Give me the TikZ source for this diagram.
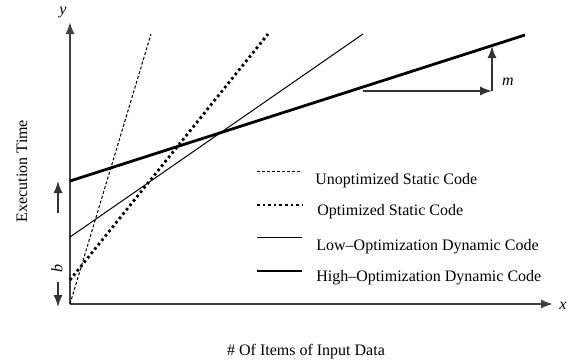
\documentclass[tikz,border=0pt]{standalone}
\usepackage{fontspec}
\setmainfont{Liberation Serif}
\usetikzlibrary{arrows.meta}

\begin{document}
\begin{tikzpicture}[x=0.5pt, y=0.5pt, >={Latex[length=6pt,width=4.5pt]},
    every node/.style={font=\fontsize{8}{10}\selectfont, inner sep=1pt},
    axis/.style={->, black!75, line width=1pt},
    guide/.style={->, black!80, line width=0.7pt},
    unopt/.style={dash pattern=on 1.5pt off 1pt, line width=0.5pt},
    optstat/.style={dash pattern=on 1.3pt off 1.5pt, line width=1.4pt},
    lowdyn/.style={line width=0.5pt},
    highdyn/.style={line width=1.4pt}]
    \useasboundingbox (0,0) rectangle (573,361);

    % 1. axes
    \coordinate (O) at (70,57);
    \coordinate (ytip) at (70,339);
    \coordinate (xtip) at (553,57);
    \draw[axis] (O) -- (ytip);
    \draw[axis] (O) -- (xtip);
    \node (ylab) at (63,348) {\textit{y}};
    \node (xlab) at (563,55) {\textit{x}};
    \node[rotate=90] (ytitle) at (22,190) {Execution Time};
    \node (xtitle) at (306,9) {\# Of Items of Input Data};

    % 2. the four cost lines
    \coordinate (u0) at (70,57);   \coordinate (u1) at (151,327);
    \coordinate (p0) at (70,81);   \coordinate (p1) at (268,327);
    \coordinate (l0) at (70,124);  \coordinate (l1) at (363,327);
    \coordinate (h0) at (70,180);  \coordinate (h1) at (525,326);
    \draw[unopt] (u0) -- (u1);
    \draw[optstat] (p0) -- (p1);
    \draw[lowdyn] (l0) -- (l1);
    \draw[highdyn] (h0) -- (h1);

    % 3. slope m
    \coordinate (s0) at (363,270);
    \coordinate (s1) at (492,270);
    \coordinate (s2) at (492,315);
    \draw[guide] (s0) -- (s1);
    \draw[guide] (s1) -- (s2);
    \node (mlab) at (508,279) {\textit{m}};

    % 4. intercept b
    \coordinate (b0) at (58,148);  \coordinate (b1) at (58,180);
    \coordinate (b2) at (58,79);   \coordinate (b3) at (58,54);
    \draw[guide] (b0) -- (b1);
    \draw[guide] (b2) -- (b3);
    \node[rotate=90] (blab) at (57,93) {\textit{b}};

    % 5. legend
    \draw[unopt] (257,190) -- (302,190);
    \node[anchor=west] (leg1) at (313,180) {Unoptimized Static Code};
    \draw[optstat] (257,156) -- (302,156);
    \node[anchor=west] (leg2) at (315,149) {Optimized Static Code};
    \draw[lowdyn] (257,124) -- (302,124);
    \node[anchor=west] (leg3) at (314,114) {Low--Optimization Dynamic Code};
    \draw[highdyn] (257,90) -- (302,90);
    \node[anchor=west] (leg4) at (314,83) {High--Optimization Dynamic Code};
\end{tikzpicture}
\end{document}
